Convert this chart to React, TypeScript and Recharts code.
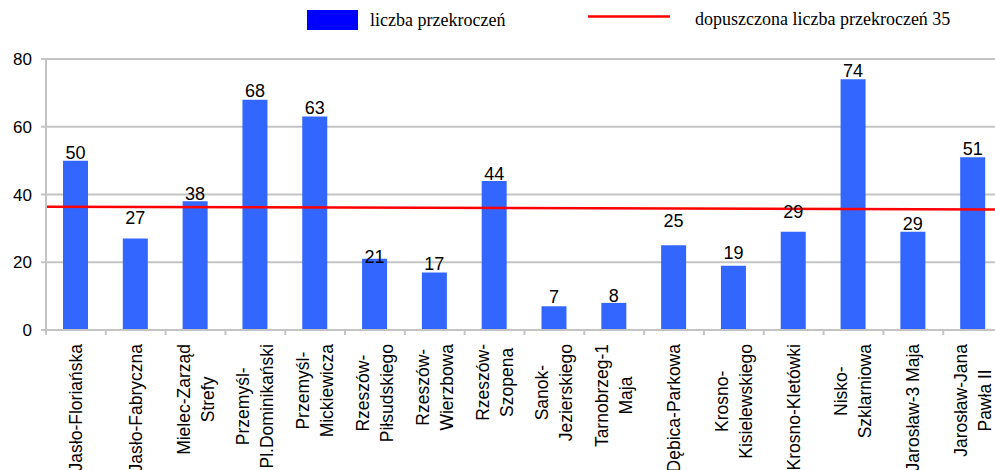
import { Bar, ComposedChart, Line, XAxis, YAxis, CartesianGrid, LabelList } from "recharts"

const stations = [
  "Jasło-Floriańska",
  "Jasło-Fabryczna",
  "Mielec-Zarząd\nStrefy",
  "Przemyśl-\nPl.Dominikański",
  "Przemyśl-\nMickiewicza",
  "Rzeszów-\nPiłsudskiego",
  "Rzeszów-\nWierzbowa",
  "Rzeszów-\nSzopena",
  "Sanok-\nJezierskiego",
  "Tarnobrzeg-1\nMaja",
  "Dębica-Parkowa",
  "Krosno-\nKisielewskiego",
  "Krosno-Kletówki",
  "Nisko-\nSzklarniowa",
  "Jarosław-3 Maja",
  "Jarosław-Jana\nPawła II",
]

const exceedances = [50, 27, 38, 68, 63, 21, 17, 44, 7, 8, 25, 19, 29, 74, 29, 51]

// limit line endpoints (left and right edge of the plot)
const limitPos = [0, 1]
const limitValues = [36.4, 35.6]

const yTicks = [0, 20, 40, 60, 80]

const seriesName = "liczba przekroczeń"
const limitName = "dopuszczona liczba przekroczeń 35"

// how far each value label sits above its bar
const labelLift = [2, 15, 1, 3, 3, -4, 2, 1, 3, 1, 18, 7, 14, 2, 2, 2]

const data = stations.map((name, i) => ({ name, value: exceedances[i] }))
const limitData = limitPos.map((pos, i) => ({ pos, limit: limitValues[i] }))

const CHART_W = 1003
const CHART_H = 490
const Y_AXIS_W = 46
const step = (CHART_W - Y_AXIS_W) / stations.length
const FONT = "'Liberation Sans', Arial, sans-serif"
const GRID = "#c4c4c4"
const TICK_FONT = 17.5

let measureCtx: CanvasRenderingContext2D | null = null
function textWidth(s: string) {
  if (!measureCtx) {
    measureCtx = document.createElement("canvas").getContext("2d")
  }
  if (!measureCtx) return s.length * 9
  measureCtx.font = `${TICK_FONT}px ${FONT}`
  return measureCtx.measureText(s).width
}

function StationTick(props: any) {
  const { x, y, payload } = props
  const lines: string[] = String(payload.value).split("\n")
  const longest = Math.max(...lines.map(textWidth))
  const cy = y + 14 + longest / 2
  return (
    <g>
      <line x1={x - step / 2} y1={y} x2={x - step / 2} y2={y + 5} stroke={GRID} strokeWidth={2} />
      {lines.map((ln, i) => {
        const lx = x + (i - (lines.length - 1) / 2) * 24
        return (
          <text
            key={i}
            x={lx}
            y={cy}
            transform={`rotate(-90, ${lx}, ${cy})`}
            textAnchor="middle"
            dominantBaseline="central"
            fontSize={TICK_FONT}
            fontFamily={FONT}
            fill="#000"
          >
            {ln}
          </text>
        )
      })}
    </g>
  )
}

function ValueLabel(props: any) {
  const { x, y, width, value, index } = props
  return (
    <text
      x={x + width / 2}
      y={y - labelLift[index]}
      textAnchor="middle"
      fontSize={18}
      fontFamily={FONT}
      fill="#000"
    >
      {value}
    </text>
  )
}

export default function App() {
  return (
    <div
      style={{
        position: "fixed",
        left: 0,
        top: 0,
        width: 995,
        height: 470,
        overflow: "hidden",
        background: "#fff",
      }}
    >
      <ComposedChart
        width={CHART_W}
        height={CHART_H}
        data={data}
        margin={{ top: 59, right: 0, left: 0, bottom: 0 }}
      >
        <CartesianGrid vertical={false} stroke={GRID} strokeWidth={2} />
        <XAxis
          dataKey="name"
          interval={0}
          height={160}
          tickSize={0}
          tickMargin={0}
          tickLine={false}
          axisLine={{ stroke: GRID, strokeWidth: 2 }}
          tick={<StationTick />}
        />
        <XAxis xAxisId="limit" type="number" dataKey="pos" domain={[0, 1]} hide />
        <YAxis
          width={Y_AXIS_W}
          domain={[0, 80]}
          ticks={yTicks}
          interval={0}
          tickSize={5}
          tickMargin={9}
          axisLine={{ stroke: GRID, strokeWidth: 2 }}
          tickLine={{ stroke: GRID, strokeWidth: 2 }}
          tick={{ fontSize: 17, fontFamily: FONT, fill: "#000" }}
        />
        <Bar dataKey="value" name={seriesName} fill="#3366ff" barSize={25} isAnimationActive={false}>
          <LabelList dataKey="value" content={<ValueLabel />} />
        </Bar>
        <Line
          xAxisId="limit"
          data={limitData}
          dataKey="limit"
          name={limitName}
          stroke="#ff0000"
          strokeWidth={2.5}
          dot={false}
          activeDot={false}
          isAnimationActive={false}
        />
      </ComposedChart>
      <svg
        width={995}
        height={40}
        style={{ position: "absolute", left: 0, top: 0 }}
        fontFamily="'Liberation Serif', 'Times New Roman', serif"
      >
        <rect x={307} y={10} width={51} height={20} fill="#0000ff" />
        <text x={370} y={26} fontSize={18} fill="#000">
          {seriesName}
        </text>
        <line x1={588} y1={16.5} x2={670} y2={16.5} stroke="#ff0000" strokeWidth={2.5} />
        <text x={695} y={25} fontSize={18} fill="#000">
          {limitName}
        </text>
      </svg>
    </div>
  )
}
